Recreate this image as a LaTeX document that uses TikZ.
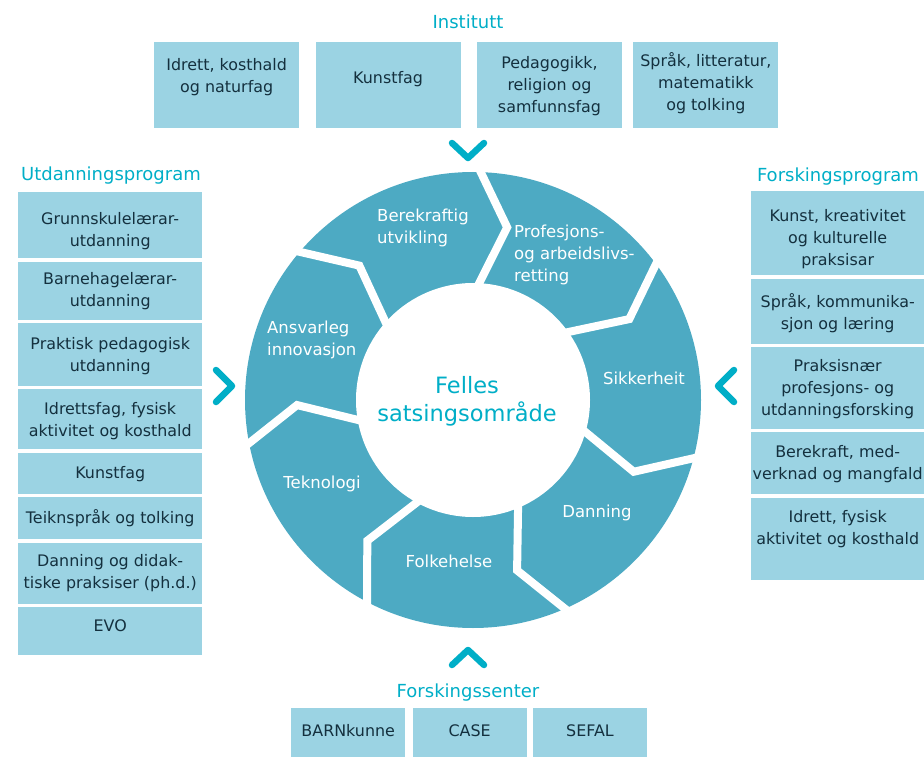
\documentclass[tikz,border=0pt]{standalone}
\usepackage{fontspec}
\setmainfont{DejaVu Sans}
\usetikzlibrary{positioning}
\definecolor{boxblue}{RGB}{155,211,227}
\definecolor{ringblue}{RGB}{77,170,195}
\definecolor{accent}{RGB}{0,174,199}
\definecolor{navy}{RGB}{20,48,62}

\begin{document}
\begin{tikzpicture}[x=1pt,y=1pt,
	box/.style={rectangle,fill=boxblue,inner sep=0pt,minimum width=145pt},
	boxtext/.style={inner sep=0pt,align=center,text=navy,font=\fontsize{15.9}{22}\selectfont},
	heading/.style={inner sep=0pt,text=accent,font=\fontsize{18}{22}\selectfont},
	segment/.style={inner sep=0pt,align=left,text=white,font=\fontsize{16.5}{22}\selectfont},
	centre/.style={inner sep=0pt,align=center,text=accent,font=\fontsize{22.5}{28}\selectfont},
	gap/.style={draw=white,line width=8pt},
	chevron/.style={draw=accent,line width=6.5pt,line cap=round,line join=round}
	]
\useasboundingbox (0,0) rectangle (924,-757);

% institutt
\node [heading] (inst) at (468,-22) {Institutt};
\node [box, minimum height=86pt, anchor=north west] (i1) at (154,-42) {};
\node [box, minimum height=86pt] (i2) [right = 16pt of i1] {};
\node [box, minimum height=86pt] (i3) [right = 16pt of i2] {};
\node [box, minimum height=86pt] (i4) [right = 11pt of i3] {};
\node [boxtext] (ti1) [below = 16pt of i1.north] {Idrett, kosthald\\og naturfag};
\node [boxtext] (ti2) [below = 29pt of i2.north] {Kunstfag};
\node [boxtext] (ti3) [below = 14pt of i3.north] {Pedagogikk,\\religion og\\samfunnsfag};
\node [boxtext] (ti4) [below = 10pt of i4.north] {Språk, litteratur,\\matematikk\\og tolking};

% utdanningsprogram
\node [heading] (utd) at (111,-176) {Utdanningsprogram};
\node [box, minimum width=184pt, minimum height=66pt, anchor=north west] (u1) at (18,-192) {};
\node [box, minimum width=184pt, minimum height=58pt] (u2) [below = 3pt of u1] {};
\node [box, minimum width=184pt, minimum height=63pt] (u3) [below = 3pt of u2] {};
\node [box, minimum width=184pt, minimum height=60pt] (u4) [below = 3pt of u3] {};
\node [box, minimum width=184pt, minimum height=41pt] (u5) [below = 3pt of u4] {};
\node [box, minimum width=184pt, minimum height=42pt] (u6) [below = 3pt of u5] {};
\node [box, minimum width=184pt, minimum height=61pt] (u7) [below = 3pt of u6] {};
\node [box, minimum width=184pt, minimum height=48pt] (u8) [below = 3pt of u7] {};
\node [boxtext] (tu1) [below = 20pt of u1.north] {Grunnskulelærar-\\utdanning};
\node [boxtext] (tu2) [below = 11pt of u2.north] {Barnehagelærar-\\utdanning};
\node [boxtext] (tu3) [below = 14pt of u3.north] {Praktisk pedagogisk\\utdanning};
\node [boxtext] (tu4) [below = 13pt of u4.north] {Idrettsfag, fysisk\\aktivitet og kosthald};
\node [boxtext] (tu5) [below = 14pt of u5.north] {Kunstfag};
\node [boxtext] (tu6) [below = 12pt of u6.north] {Teiknspråk og tolking};
\node [boxtext] (tu7) [below = 12pt of u7.north] {Danning og didak-\\tiske praksiser (ph.d.)};
\node [boxtext] (tu8) [below = 13pt of u8.north] {EVO};

% forskingsprogram
\node [heading] (fpr) at (838,-177) {Forskingsprogram};
\node [box, minimum width=173pt, minimum height=84pt, anchor=north west] (f1) at (751,-191) {};
\node [box, minimum width=173pt, minimum height=65pt] (f2) [below = 3pt of f1] {};
\node [box, minimum width=173pt, minimum height=82pt] (f3) [below = 3pt of f2] {};
\node [box, minimum width=173pt, minimum height=62pt] (f4) [below = 3pt of f3] {};
\node [box, minimum width=173pt, minimum height=82pt] (f5) [below = 3pt of f4] {};
\node [boxtext] (tf1) [below = 18pt of f1.north] {Kunst, kreativitet\\og kulturelle\\praksisar};
\node [boxtext] (tf2) [below = 15pt of f2.north] {Språk, kommunika-\\sjon og læring};
\node [boxtext] (tf3) [below = 12pt of f3.north] {Praksisnær\\profesjons- og\\utdanningsforsking};
\node [boxtext] (tf4) [below = 13pt of f4.north] {Berekraft, med-\\verknad og mangfald};
\node [boxtext] (tf5) [below = 13pt of f5.north] {Idrett, fysisk\\aktivitet og kosthald};

% forskingssenter
\node [heading] (fse) at (468,-693) {Forskingssenter};
\node [box, minimum width=114pt, minimum height=49pt, anchor=north west] (s1) at (291,-708) {};
\node [box, minimum width=114pt, minimum height=49pt] (s2) [right = 7pt of s1] {};
\node [box, minimum width=114pt, minimum height=49pt] (s3) [right = 6pt of s2] {};
\node [boxtext] (ts1) [below = 16pt of s1.north] {BARNkunne};
\node [boxtext] (ts2) [below = 16pt of s2.north] {CASE};
\node [boxtext] (ts3) [below = 16pt of s3.north] {SEFAL};

% chevrons
\draw [chevron] (452,-143) -- (468,-158) -- (484,-143);
\draw [chevron] (452,-665) -- (468,-650) -- (484,-665);
\draw [chevron] (216,-370) -- (232,-386) -- (216,-402);
\draw [chevron] (734,-370) -- (718,-386) -- (734,-402);

% ring
\coordinate (c) at (473,-400);
\fill [ringblue] (c) circle[radius=228];
\fill [white] (c) circle[radius=117];
\foreach \k in {0,...,6}{
	\pgfmathsetmacro\a{89.3-51.43*\k}
	\pgfmathsetmacro\b{\a-10.5}
	\draw [gap, shift={(c)}] (\a:238) -- (\b:176) -- (\a:107);
}

% segment labels
\node [segment, anchor=west] (berekraft) at (377,-228) {Berekraftig\\utvikling};
\node [segment, anchor=west] (profesjon) at (514,-255) {Profesjons-\\og arbeidslivs-\\retting};
\node [segment] (sikkerheit) at (644,-378) {Sikkerheit};
\node [segment] (danning) at (597,-513) {Danning};
\node [segment] (folkehelse) at (449,-561) {Folkehelse};
\node [segment] (teknologi) at (322,-484) {Teknologi};
\node [segment, anchor=west] (ansvarleg) at (267,-340) {Ansvarleg\\innovasjon};
\node [centre] (felles) at (467,-401) {Felles\\satsingsområde};
\end{tikzpicture}
\end{document}
